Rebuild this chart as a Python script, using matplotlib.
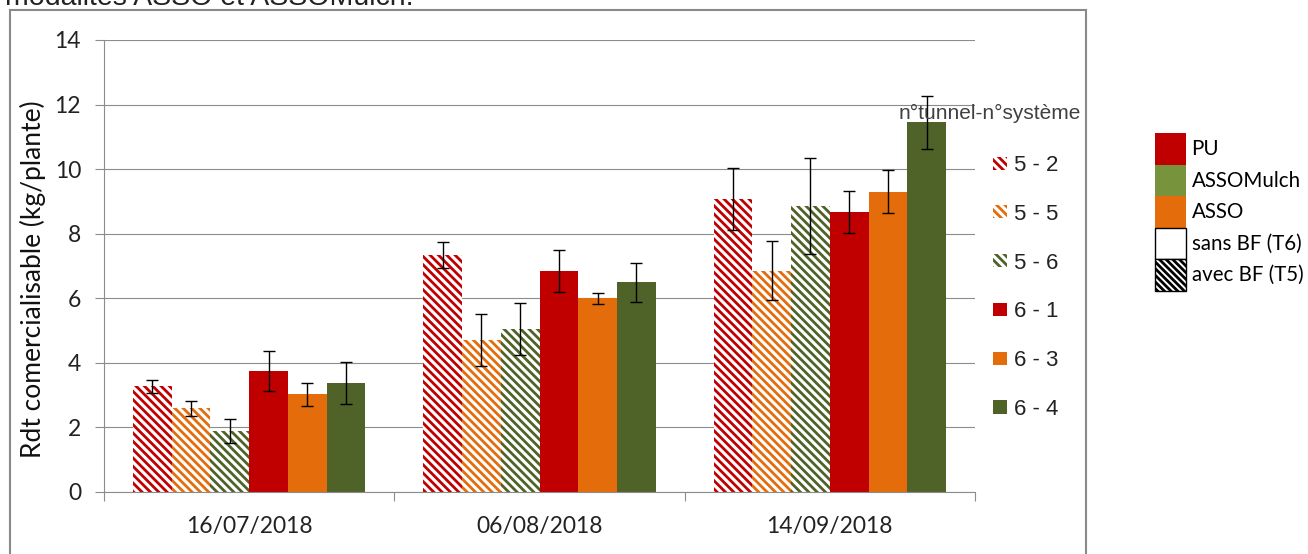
import matplotlib
matplotlib.use("Agg")
import matplotlib.pyplot as plt
import numpy as np
from matplotlib.patches import Patch, Rectangle

# données
dates = ["16/07/2018", "06/08/2018", "14/09/2018"]
series = ["5 - 2", "5 - 5", "5 - 6", "6 - 1", "6 - 3", "6 - 4"]
rdt_52 = [3.27, 7.35, 9.08]
rdt_55 = [2.59, 4.70, 6.85]
rdt_56 = [1.89, 5.05, 8.86]
rdt_61 = [3.75, 6.85, 8.67]
rdt_63 = [3.03, 6.00, 9.30]
rdt_64 = [3.38, 6.50, 11.45]
err_52 = [0.19, 0.40, 0.95]
err_55 = [0.24, 0.80, 0.91]
err_56 = [0.38, 0.80, 1.50]
err_61 = [0.62, 0.65, 0.66]
err_63 = [0.36, 0.17, 0.66]
err_64 = [0.65, 0.60, 0.83]

values = [rdt_52, rdt_55, rdt_56, rdt_61, rdt_63, rdt_64]
errors = [err_52, err_55, err_56, err_61, err_63, err_64]

RED = "#C00000"
ORANGE = "#E46C0A"
GREEN = "#4F6228"
colors = [RED, ORANGE, GREEN, RED, ORANGE, GREEN]
hatched = [True, True, True, False, False, False]
HATCH = "\\\\\\\\"

W, H = 1308, 554
plt.rcParams["hatch.linewidth"] = 2.0
plt.rcParams["font.family"] = ["Lato", "DejaVu Sans"]

fig = plt.figure(figsize=(W / 100, H / 100), dpi=100)
ax = fig.add_axes([104 / W, 62 / H, (975 - 104) / W, (492 - 40) / H])

x = np.arange(len(dates))
width = 0.8 / len(series)
handles = []
for i, (vals, errs) in enumerate(zip(values, errors)):
    pos = x + (i - 2.5) * width
    if hatched[i]:
        ax.bar(pos, vals, width, facecolor="white", edgecolor=colors[i],
               linewidth=0, hatch=HATCH, zorder=2)
        h = Patch(facecolor="white", edgecolor=colors[i], linewidth=0, hatch=HATCH)
    else:
        ax.bar(pos, vals, width, color=colors[i], linewidth=0, zorder=2)
        h = Patch(facecolor=colors[i], edgecolor="none")
    ax.errorbar(pos, vals, yerr=errs, fmt="none", ecolor="black", elinewidth=1,
                capsize=4.4, capthick=1, zorder=3)
    handles.append(h)

ax.set_xlim(-0.5, 2.5)
ax.set_ylim(0, 14)
ax.set_yticks(range(0, 15, 2))
ax.set_xticks(x)
ax.set_xticklabels(dates)
ax.set_xticks([-0.5, 0.5, 1.5, 2.5], minor=True)
ax.tick_params(axis="x", which="major", length=0, pad=17, labelsize=16.5, labelcolor="#222222")
ax.tick_params(axis="x", which="minor", length=6.5, width=0.8, color="#8c8c8c", direction="out")
ax.tick_params(axis="y", length=6.5, width=0.8, color="#8c8c8c", pad=10,
               labelsize=16.5, labelcolor="#222222")
ax.grid(axis="y", color="#8c8c8c", linewidth=0.8, zorder=0)
ax.set_axisbelow(True)
for s in ["top", "right"]:
    ax.spines[s].set_visible(False)
for s in ["left", "bottom"]:
    ax.spines[s].set_color("#8c8c8c")
    ax.spines[s].set_linewidth(0.8)

ax.set_ylabel("Rdt comercialisable (kg/plante)", fontsize=19, color="#111111")
ax.yaxis.set_label_coords(-0.067, 0.471)

# légende des séries
fig.text(990 / W, 1 - 113 / H, "n°tunnel-n°système", ha="center", va="center",
         fontsize=15, family="Liberation Sans", color="#404040")
leg1 = fig.legend(handles, series, loc="upper left",
                  bbox_to_anchor=(993 / W, 1 - 155 / H), frameon=False,
                  borderpad=0, borderaxespad=0, handlelength=0.63, handleheight=0.53,
                  handletextpad=0.32, labelspacing=1.25,
                  prop={"family": "Liberation Sans", "size": 16})
for t in leg1.get_texts():
    t.set_color("#222222")

# légende des modalités
mod_handles = [
    Patch(facecolor=RED, edgecolor="none"),
    Patch(facecolor="#77933C", edgecolor="none"),
    Patch(facecolor=ORANGE, edgecolor="none"),
    Patch(facecolor="white", edgecolor="black", linewidth=1),
]
with plt.rc_context({"hatch.linewidth": 1.0}):
    p = Patch(facecolor="white", edgecolor="black", linewidth=1, hatch="\\\\\\\\\\")
    if hasattr(p, "set_hatch_linewidth"):
        p.set_hatch_linewidth(1.0)
mod_handles.append(p)
mod_labels = ["PU", "ASSOMulch", "ASSO", "sans BF (T6)", "avec BF (T5)"]
fs2 = 14.8
hh2 = (31.5 * 0.72 / fs2 - 0.245) / 0.65
fig.legend(mod_handles, mod_labels, loc="upper left",
           bbox_to_anchor=(1155 / W, 1 - 133 / H), frameon=False,
           borderpad=0, borderaxespad=0, handlelength=31 * 0.72 / fs2, handleheight=hh2,
           handletextpad=0.27, labelspacing=0,
           prop={"family": "Lato", "size": fs2})

# cadre et texte du document
fig.add_artist(Rectangle((10 / W, -0.1), (1086 - 10) / W, 1.1 - 10 / H,
                         transform=fig.transFigure, fill=False,
                         edgecolor="#8a8a8a", linewidth=1.5))
fig.text(5 / W, 1 - 5 / H, "modalités ASSO et ASSOMulch.", va="baseline",
         fontsize=20.5, family="Liberation Sans", color="#222222")

fig.savefig("out.png", dpi=100)
